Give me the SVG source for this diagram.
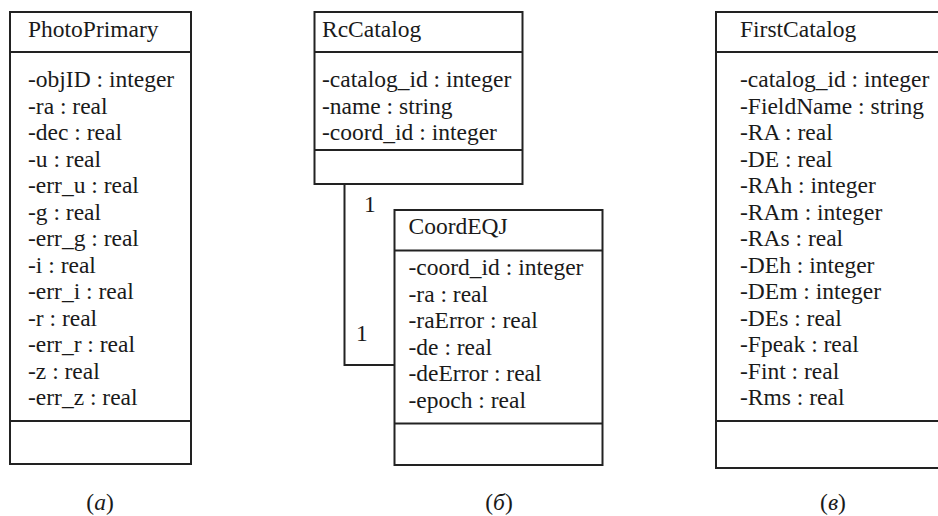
<svg xmlns="http://www.w3.org/2000/svg" width="938" height="516" viewBox="0 0 938 516">
<style>
  .box { fill: #ffffff; stroke: #222222; stroke-width: 2; }
  .div { stroke: #222222; stroke-width: 2; fill: none; }
  text { font-family: "Liberation Serif", "Times New Roman", serif; font-size: 23.5px; fill: #1a1a1a; }
  .conn { stroke: #222222; stroke-width: 2; fill: none; }
  .cap { text-anchor: middle; }
  .it { font-style: italic; }
</style>
<rect width="938" height="516" fill="#ffffff"/>

<g id="connectors">
  <polyline class="conn" points="344.5,184 344.5,365 394,365"/>
  <text x="364" y="212">1</text>
  <text x="356" y="341">1</text>
</g>

<g id="PhotoPrimary">
  <rect class="box" x="10" y="12" width="181" height="452"/>
  <line class="div" x1="10" y1="52" x2="191" y2="52"/>
  <line class="div" x1="10" y1="421" x2="191" y2="421"/>
  <text x="28" y="37">PhotoPrimary</text>
  <text x="28" y="87">-objID : integer</text>
  <text x="28" y="113.5">-ra : real</text>
  <text x="28" y="140">-dec : real</text>
  <text x="28" y="166.5">-u : real</text>
  <text x="28" y="193">-err_u : real</text>
  <text x="28" y="219.5">-g : real</text>
  <text x="28" y="246">-err_g : real</text>
  <text x="28" y="272.5">-i : real</text>
  <text x="28" y="299">-err_i : real</text>
  <text x="28" y="325.5">-r : real</text>
  <text x="28" y="352">-err_r : real</text>
  <text x="28" y="378.5">-z : real</text>
  <text x="28" y="405">-err_z : real</text>
</g>

<g id="RcCatalog">
  <rect class="box" x="314.5" y="12" width="208" height="172"/>
  <line class="div" x1="314.5" y1="52" x2="522.5" y2="52"/>
  <line class="div" x1="314.5" y1="150" x2="522.5" y2="150"/>
  <text x="322" y="37">RcCatalog</text>
  <text x="322" y="87">-catalog_id : integer</text>
  <text x="322" y="113.5">-name : string</text>
  <text x="322" y="140">-coord_id : integer</text>
</g>

<g id="CoordEQJ">
  <rect class="box" x="394.5" y="210" width="208" height="255"/>
  <line class="div" x1="394.5" y1="250.5" x2="602.5" y2="250.5"/>
  <line class="div" x1="394.5" y1="423.5" x2="602.5" y2="423.5"/>
  <text x="408.5" y="234">CoordEQJ</text>
  <text x="408.5" y="275">-coord_id : integer</text>
  <text x="408.5" y="301.5">-ra : real</text>
  <text x="408.5" y="328">-raError : real</text>
  <text x="408.5" y="354.5">-de : real</text>
  <text x="408.5" y="381">-deError : real</text>
  <text x="408.5" y="407.5">-epoch : real</text>
</g>

<g id="FirstCatalog">
  <rect class="box" x="716" y="12" width="240" height="456"/>
  <line class="div" x1="716" y1="52" x2="956" y2="52"/>
  <line class="div" x1="716" y1="421" x2="956" y2="421"/>
  <text x="740" y="37">FirstCatalog</text>
  <text x="740" y="87">-catalog_id : integer</text>
  <text x="740" y="113.5">-FieldName : string</text>
  <text x="740" y="140">-RA : real</text>
  <text x="740" y="166.5">-DE : real</text>
  <text x="740" y="193">-RAh : integer</text>
  <text x="740" y="219.5">-RAm : integer</text>
  <text x="740" y="246">-RAs : real</text>
  <text x="740" y="272.5">-DEh : integer</text>
  <text x="740" y="299">-DEm : integer</text>
  <text x="740" y="325.5">-DEs : real</text>
  <text x="740" y="352">-Fpeak : real</text>
  <text x="740" y="378.5">-Fint : real</text>
  <text x="740" y="405">-Rms : real</text>
</g>

<g id="captions">
  <text class="cap" x="100" y="510">(<tspan class="it">а</tspan>)</text>
  <text class="cap" x="499" y="510">(<tspan class="it">б</tspan>)</text>
  <text class="cap" x="833" y="510">(<tspan class="it">в</tspan>)</text>
</g>
</svg>
